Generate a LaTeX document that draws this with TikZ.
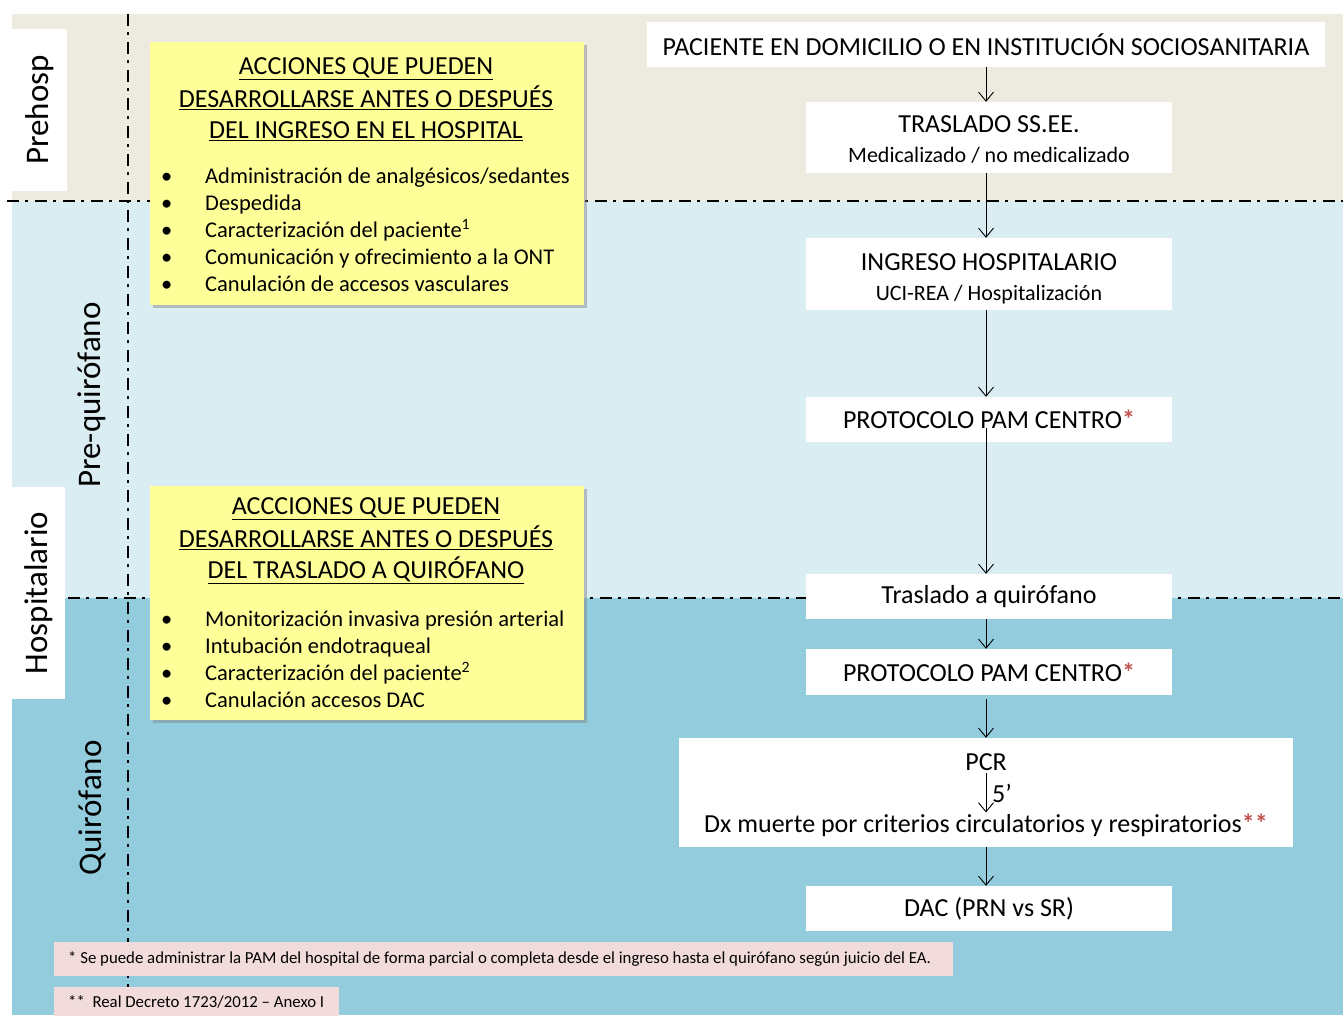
\documentclass[tikz,border=0pt]{standalone}
\usepackage{fontspec}
\setmainfont{Carlito}
\usetikzlibrary{arrows.meta,shadows,calc}
\definecolor{beige}{HTML}{EDEBE0}
\definecolor{lblue}{HTML}{DAEDF3}
\definecolor{dblue}{HTML}{93CDDD}
\definecolor{yel}{HTML}{FFFF99}
\definecolor{pinkc}{HTML}{F2DCDB}
\definecolor{redc}{HTML}{C0504D}
\newcommand{\fs}[1]{\fontsize{#1}{#1}\selectfont}
\newcommand{\rast}{\textcolor{redc}{\textbf{*}}}
\tikzset{
  flowbox/.style={fill=white, minimum width=366pt, minimum height=45pt, inner sep=0pt, align=center, font=\fs{26}},
  yelbox/.style={fill=yel, minimum width=434pt, inner sep=0pt, drop shadow={shadow xshift=3pt, shadow yshift=-3pt, opacity=0.45}},
  sidelabel/.style={rotate=90, font=\fs{33}, inner sep=0pt},
  whitebox/.style={fill=white, inner sep=0pt},
  dashdot/.style={line width=1.3pt, dash pattern=on 12pt off 6pt on 3pt off 7pt},
  arr/.style={-{Straight Barb[length=9pt,width=15pt]}, line width=0.9pt},
  pinkbox/.style={fill=pinkc, inner sep=0pt},
  ytitle/.style={align=center, font=\fs{26}, inner sep=0pt},
  ylist/.style={anchor=north west, inner sep=0pt, font=\fontsize{22.5}{27}\selectfont},
  fntext/.style={inner sep=0pt, anchor=west, font=\fs{16.8}},
  boxtext/.style={inner sep=0pt, align=center, font=\fs{26}}
}
\begin{document}
\begin{tikzpicture}[x=1pt,y=-1pt]
\useasboundingbox (0,0) rectangle (1343,1015);
% background bands
\fill[beige] (12,14) rectangle (1343,201);
\fill[lblue] (12,201) rectangle (1343,598);
\fill[dblue] (12,598) rectangle (1343,1015);
% side label boxes
\node[whitebox, minimum width=55pt, minimum height=162pt] (wb1) at (39.5,110) {};
\node[whitebox, minimum width=53pt, minimum height=212pt] (wb2) at (38.5,593) {};
\node[sidelabel] (l1) at (40,110) {Prehosp};
\node[sidelabel] (l2) at (39,593) {Hospitalario};
\node[sidelabel] (l3) at (92,395) {Pre-quirófano};
\node[sidelabel] (l4) at (92,808) {Quirófano};
% dash-dot lines
\coordinate (v1) at (128,14);
\coordinate (v2) at (128,1015);
\coordinate (h1a) at (7,201);
\coordinate (h1b) at (1343,201);
\coordinate (h2a) at (68,598);
\coordinate (h2b) at (1343,598);
\draw[dashdot] (v1) -- (v2);
\draw[dashdot] (h1a) -- (h1b);
\draw[dashdot] (h2a) -- (h2b);
% yellow boxes
\node[yelbox, minimum height=263pt] (y1) at (367,173.5) {};
\node[ytitle] (y1t) at (366,99) {\underline{ACCIONES QUE PUEDEN}\\[5pt]\underline{DESARROLLARSE ANTES O DESPUÉS}\\[5pt]\underline{DEL INGRESO EN EL HOSPITAL}};
\node[ylist] (y1l) at (161,164) {\begin{tabular}{@{}p{44pt}@{}l@{}}
•& Administración de analgésicos/sedantes\\
•& Despedida\\
•& Caracterización del paciente\textsuperscript{1}\\
•& Comunicación y ofrecimiento a la ONT\\
•& Canulación de accesos vasculares
\end{tabular}};
\node[yelbox, minimum height=234pt] (y2) at (367,603) {};
\node[ytitle] (y2t) at (366,541) {\underline{ACCCIONES QUE PUEDEN}\\[5pt]\underline{DESARROLLARSE ANTES O DESPUÉS}\\[5pt]\underline{DEL TRASLADO A QUIRÓFANO}};
\node[ylist] (y2l) at (161,607) {\begin{tabular}{@{}p{44pt}@{}l@{}}
•& Monitorización invasiva presión arterial\\
•& Intubación endotraqueal\\
•& Caracterización del paciente\textsuperscript{2}\\
•& Canulación accesos DAC
\end{tabular}};
% flow boxes
\node[flowbox, minimum width=678pt] (pac) at (986,44.5) {PACIENTE EN DOMICILIO O EN INSTITUCIÓN SOCIOSANITARIA};
\node[flowbox, minimum height=71pt] (tras) at (989,137.5) {};
\node[boxtext] (trast) at (989,140) {TRASLADO SS.EE.\\[4pt]{\fs{22}Medicalizado / no medicalizado}};
\node[flowbox, minimum height=72pt] (ing) at (989,274) {};
\node[boxtext] (ingt) at (989,278.5) {INGRESO HOSPITALARIO\\[4pt]{\fs{22}UCI-REA / Hospitalización}};
\node[flowbox] (pam1) at (989,419.5) {PROTOCOLO PAM CENTRO\rast};
\node[flowbox] (tq) at (989,596.5) {Traslado a quirófano};
\node[flowbox, minimum height=46pt] (pam2) at (989,672) {PROTOCOLO PAM CENTRO\rast};
\node[flowbox, minimum width=614pt, minimum height=109pt] (pcr) at (986,792.5) {};
\node[inner sep=0pt, font=\fs{26}] (pcrt) at (986,762) {PCR};
\node[inner sep=0pt, font=\fs{26}] (dx) at (986,825) {Dx muerte por criterios circulatorios y respiratorios\textcolor{redc}{\textbf{**}}};
\node[inner sep=0pt, font=\fs{26}, anchor=west] (five) at (992,793) {5’};
\node[flowbox] (dac) at (989,908.5) {DAC (PRN vs SR)};
% arrows
\draw[arr] (pac.south) -- (tras.north -| pac.south);
\draw[arr] (tras.south -| pac.south) -- (ing.north -| pac.south);
\draw[arr] (ing.south -| pac.south) -- (pam1.north -| pac.south);
\draw[arr] ($(pam1.center -| pac.south)+(0,8)$) -- (tq.north -| pac.south);
\draw[arr] (tq.south -| pac.south) -- (pam2.north -| pac.south);
\draw[arr, shorten <=4pt] (pam2.south -| pac.south) -- (pcr.north);
\draw[arr, shorten <=2pt, shorten >=1pt] (pcrt.south) -- (dx.north -| pcrt.south);
\draw[arr] (pcr.south) -- (dac.north -| pcr.south);
% footnotes
\node[pinkbox, minimum width=899pt, minimum height=34pt] (fn1) at (503.5,959) {};
\node[fntext] (fn1t) at (68,959) {* Se puede administrar la PAM del hospital de forma parcial o completa desde el ingreso hasta el quirófano según juicio del EA.};
\node[pinkbox, minimum width=285pt, minimum height=34pt] (fn2) at (196.5,1004) {};
\node[fntext] (fn2t) at (68,1002) {**\ \ Real Decreto 1723/2012 – Anexo I};
\end{tikzpicture}
\end{document}
